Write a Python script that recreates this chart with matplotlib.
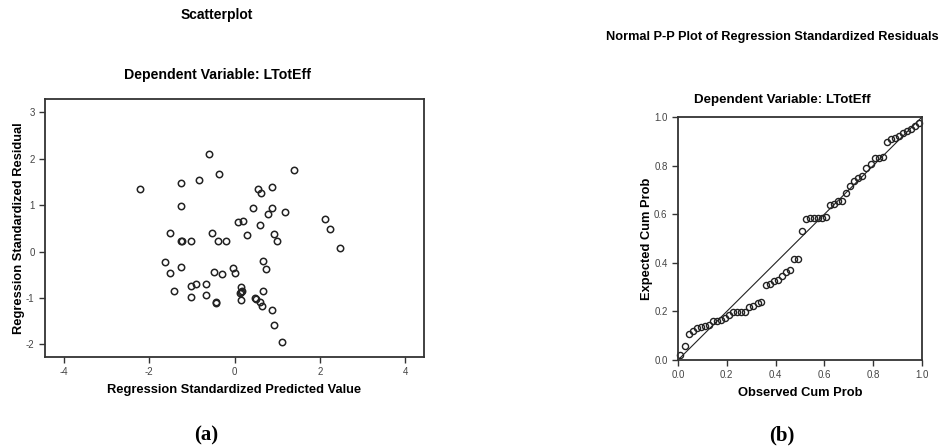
import matplotlib
matplotlib.use("Agg")
import matplotlib.pyplot as plt

plt.rcParams['font.family'] = ['Liberation Sans', 'DejaVu Sans']
plt.rcParams['axes.unicode_minus'] = False

W, H = 946, 448

# scatter: standardized predicted value vs standardized residual
pred = [-2.21, -1.25, -0.84, -0.59, -0.37, -1.25, -1.51, -1.26, -1.24, -1.02,
        -0.53, -0.39, -0.19, 0.09, 0.21, 0.29, 0.44, 0.54, 0.62, 0.88,
        0.59, 0.79, 0.88, 1.19, 0.93, 1.00, 1.39, 2.12, 2.23, 2.48,
        -1.64, -1.51, -1.25, -1.42, -1.02, -0.91, -1.02, -0.66, -0.66, -0.47,
        -0.29, -0.44, -0.43, -0.03, 0.01, 0.15, 0.12, 0.18, 0.16, 0.15,
        0.47, 0.50, 0.59, 0.65, 0.66, 0.73, 0.66, 0.87, 0.93, 1.12]
resid = [1.35, 1.48, 1.55, 2.10, 1.68, 0.98, 0.41, 0.24, 0.22, 0.23,
         0.41, 0.24, 0.22, 0.63, 0.66, 0.36, 0.95, 1.35, 1.27, 1.40,
         0.57, 0.81, 0.95, 0.85, 0.37, 0.23, 1.77, 0.70, 0.49, 0.08,
         -0.22, -0.47, -0.34, -0.84, -0.75, -0.70, -0.97, -0.70, -0.94, -0.43,
         -0.48, -1.08, -1.11, -0.35, -0.45, -0.76, -0.89, -0.84, -0.86, -1.05,
         -0.99, -1.01, -1.09, -1.18, -0.21, -0.38, -0.84, -1.25, -1.57, -1.94]

# normal P-P plot
obs_cum = [0.008, 0.029, 0.044, 0.060, 0.077, 0.093, 0.109, 0.126, 0.142, 0.159,
           0.175, 0.192, 0.208, 0.224, 0.242, 0.259, 0.275, 0.293, 0.309, 0.326,
           0.342, 0.360, 0.376, 0.393, 0.409, 0.425, 0.442, 0.458, 0.475, 0.491,
           0.509, 0.525, 0.542, 0.558, 0.575, 0.591, 0.607, 0.624, 0.640, 0.656,
           0.673, 0.689, 0.706, 0.722, 0.739, 0.755, 0.772, 0.789, 0.806, 0.822,
           0.839, 0.855, 0.871, 0.888, 0.904, 0.921, 0.937, 0.953, 0.970, 0.986]
exp_cum = [0.019, 0.056, 0.106, 0.119, 0.132, 0.137, 0.139, 0.144, 0.160, 0.160,
           0.163, 0.171, 0.184, 0.196, 0.196, 0.196, 0.199, 0.219, 0.221, 0.236,
           0.237, 0.310, 0.311, 0.324, 0.331, 0.347, 0.361, 0.369, 0.416, 0.417,
           0.530, 0.582, 0.583, 0.584, 0.586, 0.586, 0.590, 0.638, 0.643, 0.654,
           0.656, 0.687, 0.716, 0.737, 0.749, 0.759, 0.790, 0.805, 0.830, 0.830,
           0.835, 0.897, 0.909, 0.912, 0.920, 0.933, 0.941, 0.951, 0.962, 0.977]


def px_axes(fig, x0, y0, x1, y1):
    return fig.add_axes([x0 / W, 1 - y1 / H, (x1 - x0) / W, (y1 - y0) / H])


def ftext(fig, x, y, s, **kw):
    fig.text(x / W, 1 - y / H, s, ha=kw.pop('ha', 'center'), va=kw.pop('va', 'center'), **kw)


def style(ax):
    for sp in ax.spines.values():
        sp.set_linewidth(1.3)
        sp.set_color('#333333')
    ax.tick_params(direction='out', length=4, width=1, color='#333333',
                   labelsize=7, labelcolor='#444444', pad=3.5)


fig = plt.figure(figsize=(W / 100, H / 100), dpi=100)
fig.patch.set_facecolor('white')

# (a) scatterplot
ax1 = px_axes(fig, 45, 99, 424, 357)
ax1.plot(pred, resid, 'o', ls='none', mfc='none', mec='#222222', mew=1.1, ms=4.6)
ax1.set_xlim(-4.44, 4.44)
ax1.set_ylim(-2.27, 3.29)
ax1.set_xticks([-4, -2, 0, 2, 4])
ax1.set_yticks([-2, -1, 0, 1, 2, 3])
style(ax1)
ax1.set_xlabel('Regression Standardized Predicted Value', fontsize=9.3, fontweight='bold', labelpad=5)
ax1.set_ylabel('Regression Standardized Residual', fontsize=9.3, fontweight='bold', labelpad=1)

ftext(fig, 217, 15, 'Scatterplot', fontsize=10, fontweight='bold')
ftext(fig, 217, 75, 'Dependent Variable: LTotEff', fontsize=10.2, fontweight='bold')
ftext(fig, 206, 435, '(a)', fontsize=15, fontweight='bold', family='Liberation Serif')

# (b) normal P-P plot
ax2 = px_axes(fig, 678, 117, 922, 360)
ax2.plot([0, 1], [0, 1], color='#222222', lw=0.8)
ax2.plot(obs_cum, exp_cum, 'o', ls='none', mfc='none', mec='#222222', mew=1.0, ms=4.4, clip_on=False)
ax2.set_xlim(0, 1)
ax2.set_ylim(0, 1)
ticks = [0.0, 0.2, 0.4, 0.6, 0.8, 1.0]
ax2.set_xticks(ticks)
ax2.set_yticks(ticks)
ax2.set_xticklabels([f'{t:.1f}' for t in ticks])
ax2.set_yticklabels([f'{t:.1f}' for t in ticks])
style(ax2)
ax2.set_xlabel('Observed Cum Prob', fontsize=9.3, fontweight='bold', labelpad=5)
ax2.set_ylabel('Expected Cum Prob', fontsize=9.3, fontweight='bold', labelpad=1)

ftext(fig, 606, 37, 'Normal P-P Plot of Regression Standardized Residuals', fontsize=9.2, fontweight='bold', ha='left')
ftext(fig, 782, 100, 'Dependent Variable: LTotEff', fontsize=9.6, fontweight='bold')
ftext(fig, 782, 435, '(b)', fontsize=15, fontweight='bold', family='Liberation Serif')

fig.savefig('out.png', dpi=100, facecolor='white')
